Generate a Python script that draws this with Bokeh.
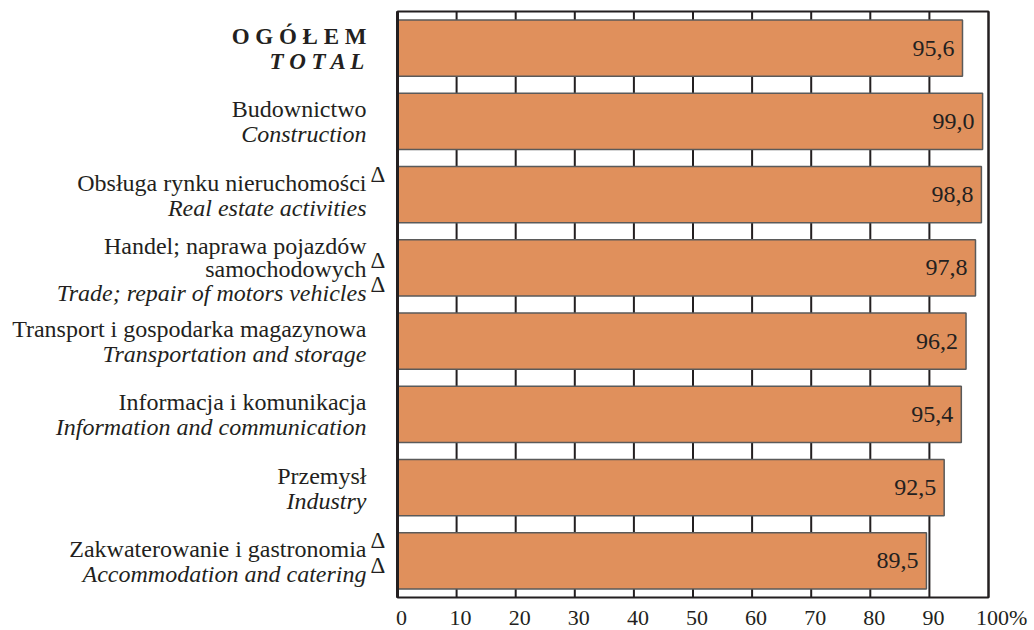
from bokeh.plotting import figure
from bokeh.models import Range1d, ColumnDataSource
from bokeh.embed import file_html
from bokeh.resources import INLINE
from bokeh.core.properties import value, field

# ---- data ----
categories_pl = [
    "OGÓŁEM",
    "Budownictwo",
    "Obsługa rynku nieruchomości",
    "Handel; naprawa pojazdów\nsamochodowych",
    "Transport i gospodarka magazynowa",
    "Informacja i komunikacja",
    "Przemysł",
    "Zakwaterowanie i gastronomia",
]
categories_en = [
    "TOTAL",
    "Construction",
    "Real estate activities",
    "Trade; repair of motors vehicles",
    "Transportation and storage",
    "Information and communication",
    "Industry",
    "Accommodation and catering",
]
values = [95.6, 99.0, 98.8, 97.8, 96.2, 95.4, 92.5, 89.5]
# which label lines carry the Δ mark
delta_marks = [[], [], [0], [1, 2], [], [], [], [0, 1]]
ticks = [0, 10, 20, 30, 40, 50, 60, 70, 80, 90, 100]
tick_labels = ["0", "10", "20", "30", "40", "50", "60", "70", "80", "90", "100%"]

FONT = "Liberation Serif"
INK = "#231f20"
BAR = "#e0905c"

W, H = 1034, 630
# pixel layout of the value axis / bar area
PX_LEFT, PX_RIGHT = 397, 988
PX_TOP, PX_BOTTOM = 11, 597

n = len(values)
xmax = 100.0
sx = (PX_RIGHT - PX_LEFT) / xmax
sy = (PX_BOTTOM - PX_TOP) / n
x_range = Range1d(-PX_LEFT / sx, xmax + (W - PX_RIGHT) / sx)
y_range = Range1d(-(H - PX_BOTTOM) / sy, n + PX_TOP / sy)

ypos = [n - 1 - i + 0.5 for i in range(n)]

p = figure(width=W, height=H, x_range=x_range, y_range=y_range,
           output_backend="svg", toolbar_location=None,
           min_border=0)
p.outline_line_color = None
p.background_fill_color = "white"
p.border_fill_color = "white"
p.axis.visible = False
p.grid.visible = False

# vertical grid lines (value axis ticks)
p.segment(x0=ticks, y0=[0] * len(ticks), x1=ticks, y1=[n] * len(ticks),
          line_color=INK, line_width=2)

# bars
bars = ColumnDataSource(dict(
    y=ypos, val=values,
    lab=[f"{v:.1f}".replace(".", ",") for v in values],
))
p.hbar(y="y", right="val", left=0, height=0.77, source=bars,
       fill_color=BAR, line_color="#5a5a5a", line_width=1.5)
p.text(x="val", y="y", text="lab", source=bars,
       text_align="right", text_baseline="middle", x_offset=-8, y_offset=0,
       text_font=value(FONT), text_font_size="24px", text_color=INK)

# frame
p.quad(left=[0], right=[xmax], bottom=[0], top=[n], fill_color=None,
       line_color=INK, line_width=2)
p.segment(x0=[0], y0=[0], x1=[0], y1=[n], line_color=INK, line_width=3)

# category labels
lx, ly, lt, lst, lsz, loff = [], [], [], [], [], []
dx, dy, doff = [], [], []
for i, (pl, en) in enumerate(zip(categories_pl, categories_en)):
    lines = pl.split("\n") + [en]
    styles = ["normal"] * (len(lines) - 1) + ["italic"]
    size = "24px"
    if i == 0:
        lines = [" ".join(l) for l in lines]
        styles = ["bold", "bold italic"]
        size = "23px"
    offs = [-12, 13] if len(lines) == 2 else [-22, 1, 25]
    for j, (t, s, o) in enumerate(zip(lines, styles, offs)):
        lx.append(0); ly.append(ypos[i]); lt.append(t)
        lst.append(s); lsz.append(size); loff.append(o)
        if j in delta_marks[i]:
            dx.append(0); dy.append(ypos[i]); doff.append(o - 8)

cats = ColumnDataSource(dict(x=lx, y=ly, t=lt, st=lst, sz=lsz, off=loff))
p.text(x="x", y="y", text="t", source=cats, x_offset=-31, y_offset=field("off"),
       text_align="right", text_baseline="middle",
       text_font=value(FONT), text_font_size=field("sz"),
       text_font_style=field("st"), text_color=INK)

deltas = ColumnDataSource(dict(x=dx, y=dy, off=doff, t=["Δ"] * len(dx)))
p.text(x="x", y="y", text="t", source=deltas, x_offset=-27, y_offset=field("off"),
       text_align="left", text_baseline="middle",
       text_font=value(FONT), text_font_size="23px", text_color=INK)

# value-axis tick labels
tsrc = ColumnDataSource(dict(
    x=ticks, y=[0] * len(ticks), t=tick_labels,
    xo=[4 - len(str(t)) * 5.5 for t in ticks],
))
p.text(x="x", y="y", text="t", source=tsrc, x_offset=field("xo"), y_offset=20,
       text_align="left", text_baseline="middle",
       text_font=value(FONT), text_font_size="22px", text_color=INK)

open("out.html", "w").write(file_html(p, INLINE))
